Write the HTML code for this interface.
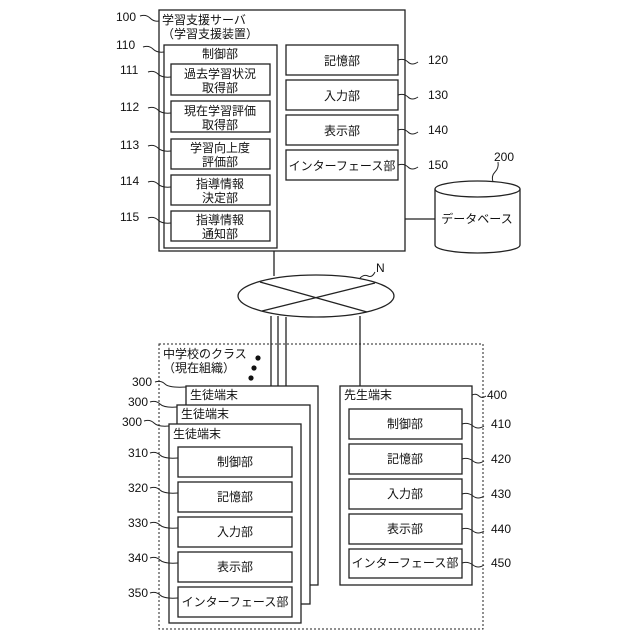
<!DOCTYPE html>
<html><head><meta charset="utf-8"><style>
html,body{margin:0;padding:0;background:#fff}
svg{display:block}
text{font-family:"Liberation Sans","Noto Sans CJK JP",sans-serif;font-size:12px;fill:#111}
.c{text-anchor:middle}
</style></head><body>
<svg width="640" height="640" viewBox="0 0 640 640" xmlns="http://www.w3.org/2000/svg">
<g fill="none" stroke="#222" stroke-width="1.3">
<rect x="159" y="10" width="246" height="241"/>
<rect x="164" y="45" width="113" height="203"/>
<rect x="171" y="64" width="99" height="31"/>
<rect x="171" y="101" width="99" height="31"/>
<rect x="171" y="139" width="99" height="30"/>
<rect x="171" y="175" width="99" height="30"/>
<rect x="171" y="211" width="99" height="30"/>
<rect x="286" y="45" width="112" height="30"/>
<rect x="286" y="80" width="112" height="30"/>
<rect x="286" y="115" width="112" height="30"/>
<rect x="286" y="150" width="112" height="30"/>
<line x1="405" y1="219" x2="435" y2="219"/>
<path d="M435 189 L435 245 A42.5 8 0 0 0 520 245 L520 189"/>
<ellipse cx="477.5" cy="189" rx="42.5" ry="8" fill="#fff"/>
<line x1="274" y1="251" x2="274" y2="276"/>
<ellipse cx="316" cy="296" rx="78" ry="21"/>
<line x1="260" y1="282" x2="367" y2="312"/>
<line x1="262" y1="311" x2="375" y2="283"/>
<line x1="271" y1="316" x2="271" y2="424"/>
<line x1="278" y1="316" x2="278" y2="405"/>
<line x1="286" y1="317" x2="286" y2="386"/>
<line x1="360" y1="316" x2="360" y2="386"/>
<rect x="159" y="344" width="324" height="285" stroke-dasharray="2,2" stroke-width="1"/>
<rect x="186" y="386" width="132" height="199" fill="#fff"/>
<rect x="177" y="405" width="133" height="199" fill="#fff"/>
<rect x="169" y="424" width="132" height="199" fill="#fff"/>
<rect x="178" y="447" width="114" height="30"/>
<rect x="178" y="482" width="114" height="30"/>
<rect x="178" y="517" width="114" height="30"/>
<rect x="178" y="552" width="114" height="30"/>
<rect x="178" y="587" width="114" height="30"/>
<rect x="340" y="386" width="132" height="199"/>
<rect x="349" y="409" width="113" height="30"/>
<rect x="349" y="444" width="113" height="30"/>
<rect x="349" y="479" width="113" height="30"/>
<rect x="349" y="514" width="113" height="30"/>
<rect x="349" y="549" width="113" height="29"/>
<g stroke-width="1">
<path d="M140 16 q6 -2 10 2 t9 3"/>
<path d="M143 47 q6 -2 10 2 t11 3"/>
<path d="M148 72 q6 -2 10 2 t13 3"/>
<path d="M148 108 q6 -2 10 2 t13 3"/>
<path d="M148 146 q6 -2 10 2 t13 3"/>
<path d="M148 182 q6 -2 10 2 t13 3"/>
<path d="M148 218 q6 -2 10 2 t13 3"/>
<path d="M398 60 q6 -2 10 2 t10 0"/>
<path d="M398 95 q6 -2 10 2 t10 0"/>
<path d="M398 130 q6 -2 10 2 t10 0"/>
<path d="M398 165 q6 -2 10 2 t10 0"/>
<path d="M493 182 q-2 -6 2 -10 t3 -10"/>
<path d="M360 278 q4 -4 8 -2 t7 -4"/>
<path d="M155 382 q6 -2 10 2 t21 3"/>
<path d="M150 402 q6 -2 10 2 t17 3"/>
<path d="M144 421 q6 -2 10 2 t15 3"/>
<path d="M150 453 q6 -2 10 2 t18 3"/>
<path d="M150 488 q6 -2 10 2 t18 3"/>
<path d="M150 523 q6 -2 10 2 t18 3"/>
<path d="M150 558 q6 -2 10 2 t18 3"/>
<path d="M150 593 q6 -2 10 2 t18 3"/>
<path d="M472 395 q4 -2 7 1 t7 0"/>
<path d="M462 424 q6 -2 11 2 t11 0"/>
<path d="M462 459 q6 -2 11 2 t11 0"/>
<path d="M462 494 q6 -2 11 2 t11 0"/>
<path d="M462 529 q6 -2 11 2 t11 0"/>
<path d="M462 563 q6 -2 11 2 t11 0"/>
</g>
</g>
<g fill="#111"><circle cx="258" cy="358" r="2.6"/><circle cx="254" cy="368" r="2.6"/><circle cx="251" cy="378" r="2.6"/></g>
<text x="116" y="21">100</text>
<text x="162" y="24">学習支援サーバ</text>
<text x="162" y="38">（学習支援装置）</text>
<text x="116" y="49">110</text>
<text x="220" y="58" class="c">制御部</text>
<text x="120" y="74">111</text><text x="220" y="78" class="c">過去学習状況</text><text x="220" y="92" class="c">取得部</text>
<text x="120" y="111">112</text><text x="220" y="115" class="c">現在学習評価</text><text x="220" y="129" class="c">取得部</text>
<text x="120" y="149">113</text><text x="220" y="152" class="c">学習向上度</text><text x="220" y="166" class="c">評価部</text>
<text x="120" y="185">114</text><text x="220" y="188" class="c">指導情報</text><text x="220" y="202" class="c">決定部</text>
<text x="120" y="221">115</text><text x="220" y="224" class="c">指導情報</text><text x="220" y="238" class="c">通知部</text>
<text x="342" y="65" class="c">記憶部</text>
<text x="342" y="100" class="c">入力部</text>
<text x="342" y="135" class="c">表示部</text>
<text x="342" y="170" class="c">インターフェース部</text>
<text x="428" y="64">120</text><text x="428" y="99">130</text><text x="428" y="134">140</text><text x="428" y="169">150</text>
<text x="494" y="161">200</text>
<text x="477" y="223" class="c">データベース</text>
<text x="376" y="272">N</text>
<text x="163" y="358">中学校のクラス</text>
<text x="163" y="372">（現在組織）</text>
<text x="132" y="386">300</text><text x="128" y="406">300</text><text x="122" y="426">300</text>
<text x="190" y="399">生徒端末</text>
<text x="181" y="418">生徒端末</text>
<text x="173" y="438">生徒端末</text>
<text x="128" y="457">310</text><text x="128" y="492">320</text><text x="128" y="527">330</text><text x="128" y="562">340</text><text x="128" y="597">350</text>
<text x="235" y="466" class="c">制御部</text>
<text x="235" y="501" class="c">記憶部</text>
<text x="235" y="536" class="c">入力部</text>
<text x="235" y="571" class="c">表示部</text>
<text x="235" y="606" class="c">インターフェース部</text>
<text x="344" y="399">先生端末</text>
<text x="487" y="399">400</text>
<text x="405" y="428" class="c">制御部</text>
<text x="405" y="463" class="c">記憶部</text>
<text x="405" y="498" class="c">入力部</text>
<text x="405" y="533" class="c">表示部</text>
<text x="405" y="567" class="c">インターフェース部</text>
<text x="491" y="428">410</text><text x="491" y="463">420</text><text x="491" y="498">430</text><text x="491" y="533">440</text><text x="491" y="567">450</text>
</svg>
</body></html>
